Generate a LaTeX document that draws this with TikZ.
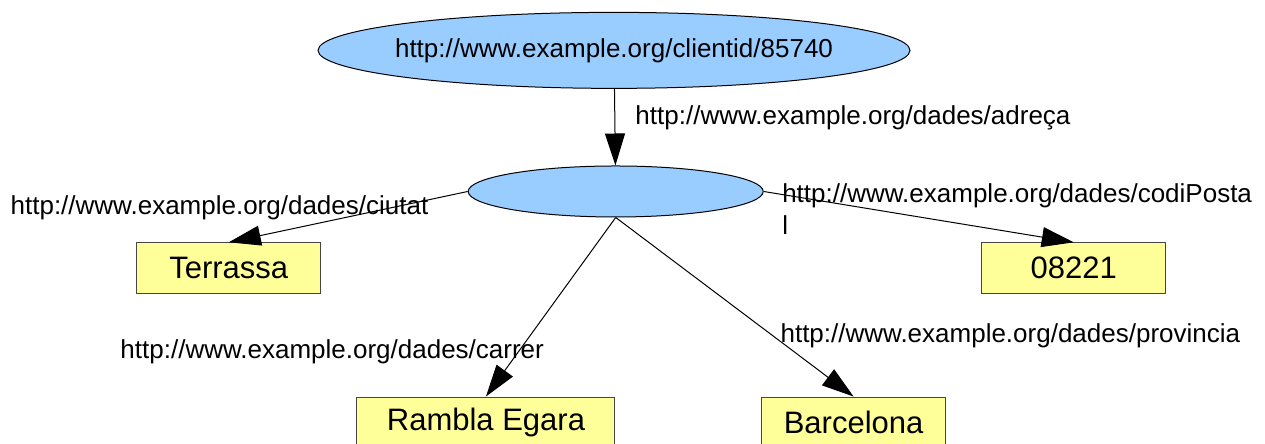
\documentclass[tikz,border=0pt]{standalone}
\usepackage{fontspec}
\setmainfont{Liberation Sans}
\usepackage{tikz}
\usetikzlibrary{positioning, shapes, arrows.meta}
\definecolor{ResBlue}{RGB}{153, 204, 255}
\definecolor{LitYellow}{RGB}{255, 255, 153}
\definecolor{BoxGray}{RGB}{70, 70, 70}

\begin{document}
\begin{tikzpicture}[
    resource/.style={ellipse, draw=black, line width=0.5pt, fill=ResBlue, inner sep=0pt, font=\fontsize{13}{16}\selectfont},
    literal/.style={rectangle, draw=BoxGray, line width=0.5pt, fill=LitYellow, minimum width=92pt, minimum height=25.5pt, inner sep=0pt, font=\fontsize{15.5}{18}\selectfont},
    prop/.style={inner sep=0pt, font=\fontsize{13}{16}\selectfont},
    link/.style={line width=0.5pt, -{Triangle[length=16pt, width=10pt]}}
  ]
    \useasboundingbox (0,0) rectangle (22.23,7.785);

    % Resources
    \node[resource, inner xsep=-6pt, minimum width=296pt, minimum height=38pt] (client) at (10.79,6.90) {http://www.example.org/clientid/85740};
    \node[resource, minimum width=147.5pt, minimum height=25.5pt] (addr) at (10.82,4.42) {};

    % Literals
    \node[literal] (terrassa) at (4.02,3.07) {Terrassa};
    \node[literal] (postal) at (18.87,3.07) {08221};
    \node[literal, minimum width=129pt] (rambla) at (8.54,0.36) {Rambla Egara};
    \node[literal] (barcelona) at (15.00,0.36) {Barcelona};

    % Properties
    \draw[link] (client) -- (addr);
    \draw[link] (addr.west) -- (terrassa.north);
    \draw[link] (addr.east) -- (postal.north);
    \draw[link] (addr.south) -- (rambla.north);
    \draw[link] (addr.south) -- (barcelona.north);

    \node[prop, anchor=base west] (padr) at (11.16,5.59) {http://www.example.org/dades/adreça};
    \node[prop, anchor=base west] (pciu) at (0.18,4.01) {http://www.example.org/dades/ciutat};
    \node[prop, anchor=base west, align=left] (pcod) at (13.74,3.66) {http://www.example.org/dades/codiPosta\\l};
    \node[prop, anchor=base west] (pcar) at (2.11,1.49) {http://www.example.org/dades/carrer};
    \node[prop, anchor=base west] (ppro) at (13.71,1.76) {http://www.example.org/dades/provincia};
  \end{tikzpicture}
\end{document}
